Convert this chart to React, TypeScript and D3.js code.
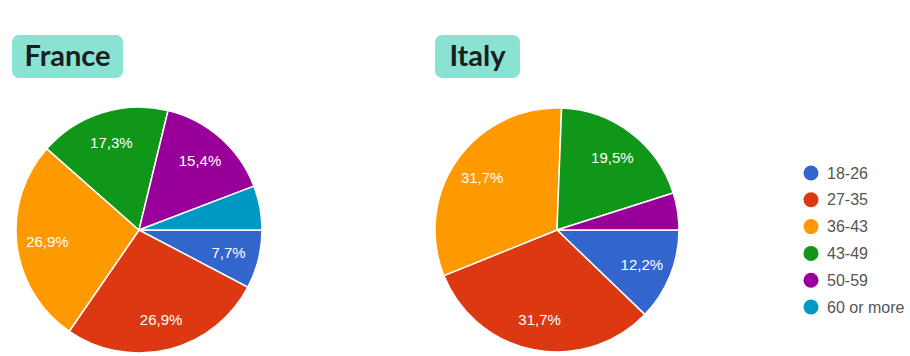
import React from "react";
import * as d3 from "d3";

const categories = ["18-26", "27-35", "36-43", "43-49", "50-59", "60 or more"];
const colors = ["#3366cc", "#dc3912", "#ff9900", "#109618", "#990099", "#0099c6"];
const franceValues = [7.7, 26.9, 26.9, 17.3, 15.4, 5.8];
const italyValues = [12.2, 31.7, 31.7, 19.5, 4.9, 0];
const franceLabels = ["7,7%", "26,9%", "26,9%", "17,3%", "15,4%", ""];
const italyLabels = ["12,2%", "31,7%", "31,7%", "19,5%", "", ""];

type PieProps = { cx: number; cy: number; r: number; values: number[]; labels: string[] };

function Pie({ cx, cy, r, values, labels }: PieProps) {
  const pie = d3
    .pie<number>()
    .sort(null)
    .value((d) => d)
    .startAngle(Math.PI / 2)
    .endAngle(Math.PI / 2 + 2 * Math.PI);
  const arcs = pie(values);
  const arc = d3.arc<d3.PieArcDatum<number>>().innerRadius(0).outerRadius(r);
  const labelArc = d3.arc<d3.PieArcDatum<number>>().innerRadius(r * 0.75).outerRadius(r * 0.75);
  return (
    <g transform={`translate(${cx},${cy})`}>
      {arcs.map((a, i) =>
        a.value > 0 ? (
          <path key={i} d={arc(a) || ""} fill={colors[i]} stroke="#ffffff" strokeWidth={1.5} />
        ) : null
      )}
      {arcs.map((a, i) => {
        if (!labels[i]) return null;
        const [x, y] = labelArc.centroid(a);
        return (
          <text
            key={"l" + i}
            x={x}
            y={y}
            textAnchor="middle"
            dominantBaseline="central"
            fill="#ffffff"
            fontFamily="Liberation Sans, Arial, sans-serif"
            fontSize={15}
          >
            {labels[i]}
          </text>
        );
      })}
    </g>
  );
}

function Title({ x, y, w, h, text }: { x: number; y: number; w: number; h: number; text: string }) {
  return (
    <g>
      <rect x={x} y={y} width={w} height={h} rx={7} ry={7} fill="#8ae3d2" />
      <text
        x={x + w / 2}
        y={y + h / 2 + 9.5}
        textAnchor="middle"
        fontFamily="Lato, sans-serif"
        fontWeight={700}
        fontSize={29}
        fill="#16201f"
      >
        {text}
      </text>
    </g>
  );
}

export default function App() {
  const legendY = d3.scaleLinear().domain([0, 1]).range([173, 199.8]);
  return (
    <svg
      width={910}
      height={356}
      style={{ position: "absolute", left: 0, top: 0, background: "#ffffff" }}
    >
      <rect x={0} y={0} width={910} height={356} fill="#ffffff" />
      <Title x={12} y={35} w={111} h={43} text="France" />
      <Title x={435} y={35} w={85} h={43} text="Italy" />
      <Pie cx={139} cy={230} r={123} values={franceValues} labels={franceLabels} />
      <Pie cx={557} cy={230} r={122} values={italyValues} labels={italyLabels} />
      {categories.map((c, i) => (
        <g key={c}>
          <circle cx={811} cy={legendY(i)} r={7.5} fill={colors[i]} />
          <text
            x={827}
            y={legendY(i)}
            dominantBaseline="central"
            fontFamily="Liberation Sans, Arial, sans-serif"
            fontSize={16}
            fill="#555555"
          >
            {c}
          </text>
        </g>
      ))}
    </svg>
  );
}
